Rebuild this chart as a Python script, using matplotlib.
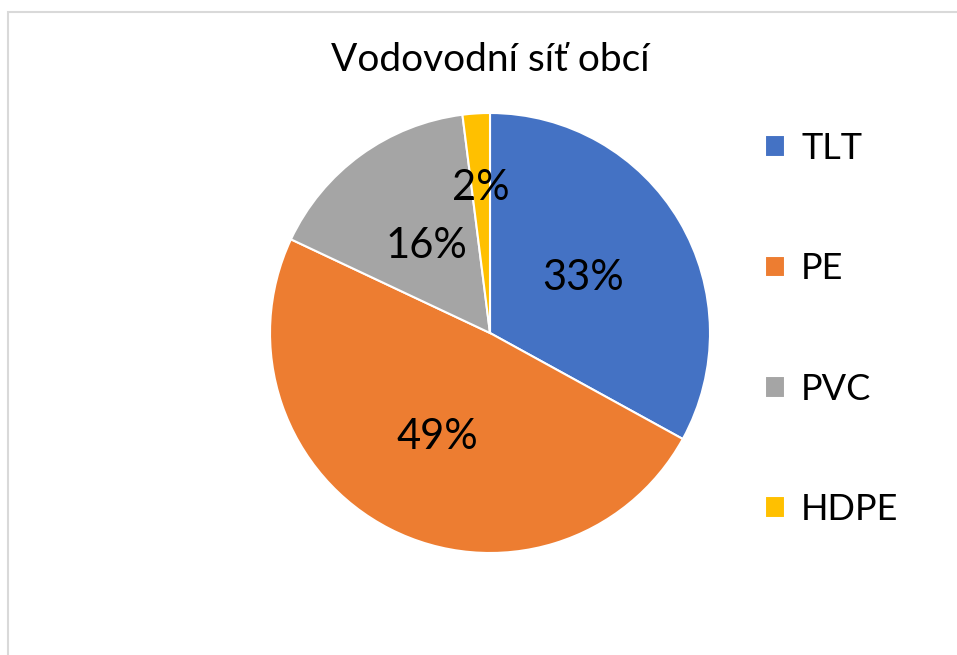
import numpy as np
import matplotlib.pyplot as plt
from matplotlib.patches import Rectangle

plt.rcParams['font.family'] = ['Lato', 'DejaVu Sans']

title = 'Vodovodní síť obcí'
labels = ['TLT', 'PE', 'PVC', 'HDPE']
shares = [33, 49, 16, 2]
colors = ['#4472C4', '#ED7D31', '#A5A5A5', '#FFC000']
# how far from the centre each percentage sits (fraction of radius)
label_r = [0.49, 0.53, 0.49, 0.66]

fig = plt.figure(figsize=(9.57, 6.55), dpi=100)

# light chart-area border (runs off the right and bottom edge)
fig.patches.append(Rectangle((8 / 957, -0.1), 1.1, 1 - 12 / 655 + 0.1,
                             transform=fig.transFigure, fill=False,
                             edgecolor='#D9D9D9', linewidth=1.5))

ax = fig.add_axes([270 / 957, 102 / 655, 440 / 957, 440 / 655])
wedges, texts = ax.pie(shares, colors=colors, startangle=90, counterclock=False,
                       wedgeprops=dict(edgecolor='white', linewidth=1.5))
ax.set_xlim(-1, 1)
ax.set_ylim(-1, 1)
ax.set_aspect('equal')

for w, v, r in zip(wedges, shares, label_r):
    mid = np.deg2rad((w.theta1 + w.theta2) / 2)
    ax.text(r * np.cos(mid), r * np.sin(mid), f'{v}%', ha='center', va='center',
            fontsize=30, color='black')

fig.text(490 / 957, 1 - 60 / 655, title, ha='center', va='center', fontsize=28)

fig.legend(wedges, labels, loc='center left', bbox_to_anchor=(765 / 957, 1 - 329 / 655),
           frameon=False, fontsize=26, handlelength=0.55, handleheight=0.55,
           handletextpad=0.45, labelspacing=2.42, borderpad=0, borderaxespad=0)

fig.savefig('out.png', dpi=100)
